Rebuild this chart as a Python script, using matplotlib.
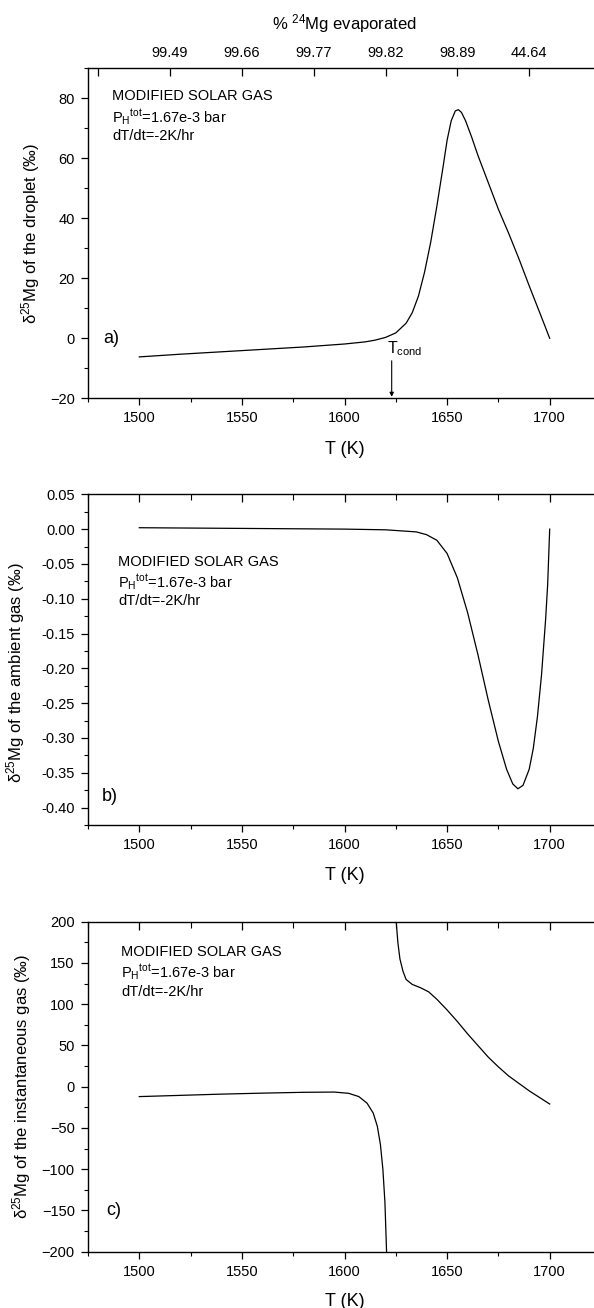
import numpy as np
import matplotlib
matplotlib.use("Agg")
import matplotlib.pyplot as plt
from matplotlib.ticker import MultipleLocator, FormatStrFormatter

plt.rcParams['font.family'] = ['Liberation Sans', 'DejaVu Sans']
plt.rcParams['mathtext.fontset'] = 'custom'
plt.rcParams['mathtext.rm'] = 'Liberation Sans'
plt.rcParams['mathtext.it'] = 'Liberation Sans:italic'
plt.rcParams['mathtext.bf'] = 'Liberation Sans:bold'

# ---- a) droplet composition
T_drop = [1500, 1520, 1540, 1560, 1580, 1600, 1610, 1615, 1620, 1625, 1630, 1633,
          1636, 1639, 1642, 1645, 1648, 1650, 1652, 1654, 1655.5, 1657, 1659, 1662,
          1665, 1670, 1675, 1680, 1685, 1690, 1695, 1700]
d_drop = [-6.2, -5.3, -4.5, -3.7, -2.9, -1.9, -1.2, -0.6, 0.3, 1.8, 5.0, 8.5,
          14, 22, 32, 44, 57, 66, 72.5, 75.8, 76.2, 75.3, 72.5, 67,
          61, 52, 43, 35, 26.5, 17.5, 8.8, 0]

# ---- b) ambient gas
T_amb = [1500, 1550, 1600, 1620, 1635, 1640, 1645, 1650, 1655, 1660, 1665, 1670,
         1675, 1679, 1682, 1684.5, 1687, 1690, 1692, 1694, 1696, 1698, 1699, 1700]
d_amb = [0.002, 0.001, 0.0, -0.001, -0.004, -0.008, -0.016, -0.035, -0.07, -0.12,
         -0.18, -0.245, -0.305, -0.345, -0.366, -0.373, -0.368, -0.345, -0.315,
         -0.27, -0.21, -0.13, -0.08, 0.0]

# ---- c) instantaneous gas (two branches either side of the singularity)
T_inst_lo = [1500, 1520, 1540, 1560, 1580, 1595, 1602, 1607, 1611, 1614, 1616,
             1617.5, 1618.7, 1619.7, 1620.5]
d_inst_lo = [-12, -10.5, -9, -7.8, -6.8, -6.5, -8, -12, -20, -32, -48,
             -70, -100, -140, -200]
T_inst_hi = [1625.2, 1626, 1627, 1628.5, 1630, 1633, 1637, 1641, 1645, 1650, 1655,
             1660, 1665, 1670, 1675, 1680, 1685, 1690, 1695, 1700]
d_inst_hi = [200, 175, 155, 140, 130, 124, 120, 115, 106, 93, 79,
             64, 50, 36, 24, 13, 4, -5, -13, -21]

# top axis of panel a: fraction of 24Mg evaporated
T_top = [1480, 1515, 1550, 1585, 1620, 1655, 1690]
evap_labels = ['', '99.49', '99.66', '99.77', '99.82', '98.89', '44.64']

T_cond = 1623

info_lines = ["MODIFIED SOLAR GAS",
              "P$_{\\mathrm{H}}$$^{\\mathrm{tot}}$=1.67e-3 bar",
              "dT/dt=-2K/hr"]

fig = plt.figure(figsize=(5.94, 13.08), dpi=100)
W, H = 594, 1308
x0 = 88
x1 = 601


def make_axes(top_px, bot_px):
    return fig.add_axes([x0 / W, 1 - bot_px / H, (x1 - x0) / W, (bot_px - top_px) / H])


def px_text(x_px, y_px, s, **kw):
    fig.text(x_px / W, 1 - y_px / H, s, **kw)


def info_block(x_px, y_px, gaps=(20.5, 19.5)):
    ys = [y_px, y_px + gaps[0], y_px + gaps[0] + gaps[1]]
    for yy, line in zip(ys, info_lines):
        px_text(x_px, yy, line, fontsize=10.5, ha='left', va='center')


axa = make_axes(68.3, 398.3)
axb = make_axes(494.3, 825)
axc = make_axes(921.7, 1251.7)

for ax in (axa, axb, axc):
    ax.set_xlim(1475, 1725)
    ax.xaxis.set_major_locator(MultipleLocator(50))
    ax.xaxis.set_minor_locator(MultipleLocator(25))
    ax.tick_params(axis='both', which='major', direction='out', length=5,
                   width=0.9, labelsize=10.5, pad=4.5)
    ax.tick_params(axis='both', which='minor', direction='out', length=3, width=0.8)
    for s in ax.spines.values():
        s.set_linewidth(1.0)
    ax.set_xlabel('T (K)', fontsize=13, labelpad=11)

# inward ticks along the top edge of panels b and c
for ax in (axb, axc):
    tw = ax.twiny()
    tw.set_xlim(ax.get_xlim())
    tw.xaxis.set_major_locator(MultipleLocator(50))
    tw.xaxis.set_minor_locator(MultipleLocator(25))
    tw.tick_params(axis='x', which='major', direction='in', length=6, width=0.9,
                   labeltop=False)
    tw.tick_params(axis='x', which='minor', direction='in', length=4, width=0.8)
    for s in tw.spines.values():
        s.set_visible(False)

# panel a
axa.plot(T_drop, d_drop, color='black', lw=0.9)
axa.set_ylim(-20, 90)
axa.yaxis.set_major_locator(MultipleLocator(20))
axa.yaxis.set_minor_locator(MultipleLocator(10))
axa.set_ylabel('δ$^{25}$Mg of the droplet (‰)', fontsize=12, labelpad=6)
info_block(112, 96.5)
axa.text(0.029, 0.182, 'a)', transform=axa.transAxes, fontsize=13, va='center')
axa.annotate('', xy=(T_cond, -19.5), xytext=(T_cond, -7.5),
             arrowprops=dict(arrowstyle='-|>', color='black', lw=0.8,
                             mutation_scale=6, shrinkA=0, shrinkB=0))
axa.text(T_cond - 2.5, -6.5, 'T$_{\\mathrm{cond}}$', fontsize=11.5, ha='left', va='bottom')

top = axa.twiny()
top.set_xlim(axa.get_xlim())
top.set_xticks(T_top)
top.set_xticklabels(evap_labels)
top.tick_params(axis='x', direction='in', length=6, width=0.9, labelsize=10.5, pad=6)
top.set_xlabel('% $^{24}$Mg evaporated', fontsize=12, labelpad=12)
for s in top.spines.values():
    s.set_visible(False)

# panel b
axb.plot(T_amb, d_amb, color='black', lw=0.9)
axb.set_ylim(-0.425, 0.05)
axb.yaxis.set_major_locator(MultipleLocator(0.05))
axb.yaxis.set_minor_locator(MultipleLocator(0.025))
axb.yaxis.set_major_formatter(FormatStrFormatter('%.2f'))
axb.set_ylabel('δ$^{25}$Mg of the ambient gas (‰)', fontsize=12, labelpad=6)
axb.yaxis.set_label_coords(-0.118, 0.46)
info_block(118, 562, gaps=(20.5, 18.5))
axb.text(0.027, 0.085, 'b)', transform=axb.transAxes, fontsize=13, va='center')

# panel c
axc.plot(T_inst_lo, d_inst_lo, color='black', lw=0.9)
axc.plot(T_inst_hi, d_inst_hi, color='black', lw=0.9)
axc.set_ylim(-200, 200)
axc.yaxis.set_major_locator(MultipleLocator(50))
axc.yaxis.set_minor_locator(MultipleLocator(25))
axc.set_ylabel('δ$^{25}$Mg of the instantaneous gas (‰)', fontsize=12, labelpad=6)
info_block(121, 951.7)
axc.text(0.035, 0.126, 'c)', transform=axc.transAxes, fontsize=13, va='center')
axc.xaxis.labelpad = 10

fig.savefig('out.png', dpi=100)
